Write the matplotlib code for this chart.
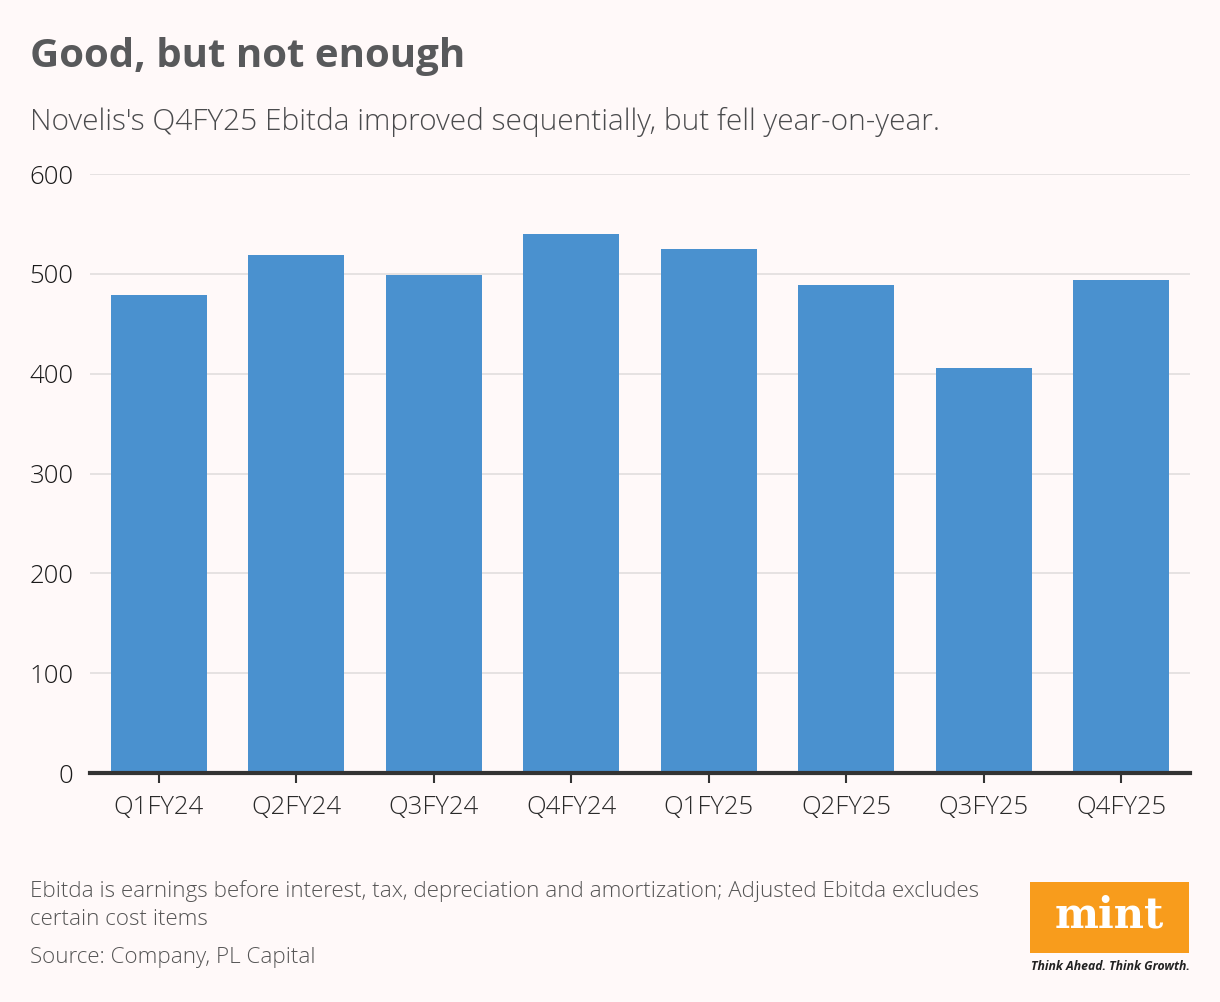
import numpy as np
import matplotlib.pyplot as plt
from matplotlib.patches import Rectangle

quarters = ['Q1FY24', 'Q2FY24', 'Q3FY24', 'Q4FY24', 'Q1FY25', 'Q2FY25', 'Q3FY25', 'Q4FY25']
ebitda = [479, 519, 499, 540, 525, 489, 406, 494]
yticks = [0, 100, 200, 300, 400, 500, 600]

bg = '#fff9f9'
bar_color = '#4a91cf'
text_dark = '#58595b'

plt.rcParams['font.family'] = ['Open Sans', 'DejaVu Sans']

fig = plt.figure(figsize=(12.2, 10.02), dpi=100, facecolor=bg)
ax = fig.add_axes([0.0738, 0.2285, 0.9016, 0.5978])
ax.set_facecolor(bg)

x = np.arange(len(quarters))
ax.bar(x, ebitda, width=0.7, color=bar_color, zorder=3)

ax.set_xlim(-0.5, 7.5)
ax.set_ylim(0, 600)
ax.set_yticks(yticks)
ax.set_yticklabels([str(v) for v in yticks])
ax.set_xticks(x)
ax.set_xticklabels(quarters)

ax.grid(axis='y', color='#e2dede', linewidth=1.2, zorder=0)
for s in ['top', 'right', 'left']:
    ax.spines[s].set_visible(False)
ax.spines['bottom'].set_color('#333333')
ax.spines['bottom'].set_linewidth(3)
ax.spines['bottom'].set_zorder(4)

ax.tick_params(axis='y', length=0, pad=12, labelsize=18.5, labelcolor='#1a1a1a')
ax.tick_params(axis='x', length=7, width=1.5, color='#333333', pad=9,
               labelsize=18.5, labelcolor='#2a2a2a')
for lbl in ax.get_xticklabels() + ax.get_yticklabels():
    lbl.set_fontweight('light')

fig.text(0.0246, 0.933, 'Good, but not enough', fontsize=29, fontweight='bold',
         color=text_dark, va='baseline')
fig.text(0.0246, 0.870, "Novelis's Q4FY25 Ebitda improved sequentially, but fell year-on-year.",
         fontsize=21.5, fontweight='light', color='#4a4b4d', va='baseline')

foot_color = '#555555'
fig.text(0.0246, 0.105, 'Ebitda is earnings before interest, tax, depreciation and amortization; Adjusted Ebitda excludes',
         fontsize=16.1, fontweight='light', color=foot_color, va='baseline')
fig.text(0.0246, 0.077, 'certain cost items',
         fontsize=16.1, fontweight='light', color=foot_color, va='baseline')
fig.text(0.0246, 0.039, 'Source: Company, PL Capital',
         fontsize=16.1, fontweight='light', color=foot_color, va='baseline')

# mint logo
fig.patches.append(Rectangle((1030 / 1220, 1 - 953 / 1002), 159 / 1220, 71 / 1002,
                             transform=fig.transFigure, facecolor='#f89c1c',
                             edgecolor='none'))
fig.text(1109 / 1220, 1 - 916 / 1002, 'mint', fontsize=30, fontweight='bold',
         family='DejaVu Serif', color='white', ha='center', va='center')
fig.text(1110 / 1220, 1 - 967 / 1002, 'Think Ahead. Think Growth.', fontsize=8.8,
         fontweight='bold', style='italic', color='#222222', ha='center', va='center')

fig.savefig('out.png', dpi=100, facecolor=bg)
